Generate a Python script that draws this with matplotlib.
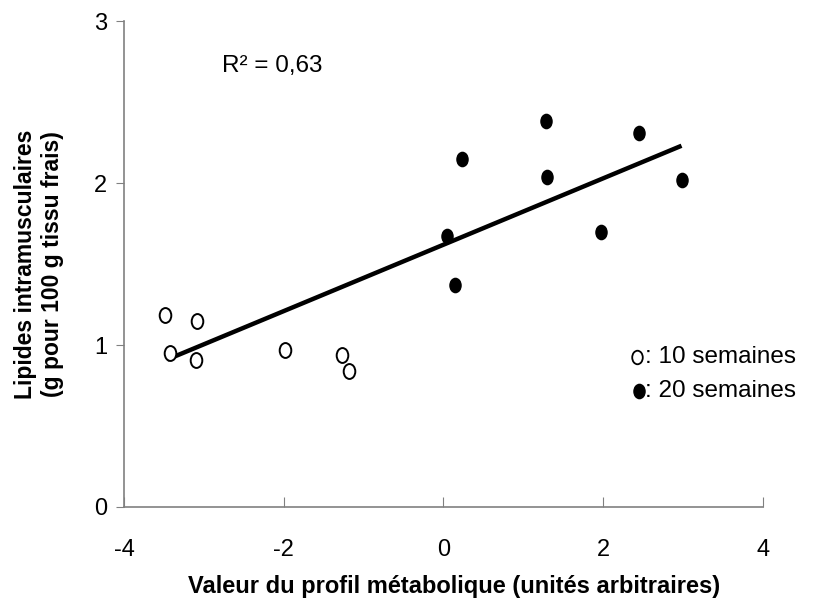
import matplotlib
matplotlib.use("Agg")
import matplotlib.pyplot as plt
from matplotlib.path import Path
from matplotlib.transforms import Affine2D
import numpy as np

plt.rcParams['font.family'] = ['Liberation Sans', 'DejaVu Sans']
plt.rcParams['axes.unicode_minus'] = False

x10 = [-3.49, -3.42, -3.08, -3.10, -1.99, -1.27, -1.18]
y10 = [1.185, 0.95, 1.15, 0.91, 0.97, 0.94, 0.84]
x20 = [0.05, 0.15, 0.23, 1.28, 1.30, 1.97, 2.45, 2.98]
y20 = [1.67, 1.37, 2.15, 2.38, 2.04, 1.70, 2.31, 2.02]
fit_x = [-3.46, 2.98]
fit_y = [0.91, 2.23]
xticks = [-4, -2, 0, 2, 4]
yticks = [0, 1, 2, 3]

ell = Path.unit_circle().transformed(Affine2D().scale(0.78, 1.0))

fig = plt.figure(figsize=(8.13, 6.04), dpi=100)
ax = fig.add_axes([0.1525, 0.1606, 0.786, 0.8046])
ax.scatter(x10, y10, marker=ell, s=115, facecolors='white', edgecolors='black', linewidths=1.4, zorder=3)
ax.scatter(x20, y20, marker=ell, s=105, facecolors='black', edgecolors='black', zorder=3)
ax.plot(fit_x, fit_y, color='black', lw=3.2, solid_capstyle='butt', zorder=2)

ax.set_xlim(-4, 4)
ax.set_ylim(0, 3)
ax.set_xticks(xticks)
ax.set_yticks(yticks)
for s in ['top', 'right']:
    ax.spines[s].set_visible(False)
for s in ['left', 'bottom']:
    ax.spines[s].set_color('#808080')
    ax.spines[s].set_linewidth(1.2)
ax.tick_params(axis='x', direction='in', length=7, color='#808080', labelsize=17, pad=23)
ax.tick_params(axis='y', direction='out', length=6, color='#808080', labelsize=17, pad=6)

ax.set_xlabel('Valeur du profil métabolique (unités arbitraires)', fontsize=17, fontweight='bold')
ax.xaxis.set_label_coords(0.516, -0.14)
ax.set_ylabel('Lipides intramusculaires\n(g pour 100 g tissu frais)', fontsize=16.5, fontweight='bold', labelpad=22)

ax.text(-2.77, 2.72, 'R² = 0,63', fontsize=17.5, va='center')

ax.scatter([2.42], [0.925], marker=ell, s=95, facecolors='white', edgecolors='black', linewidths=1.3, clip_on=False)
ax.scatter([2.45], [0.715], marker=ell, s=105, facecolors='black', edgecolors='black', clip_on=False)
ax.text(2.52, 0.925, ': 10 semaines', fontsize=17.5, va='center')
ax.text(2.52, 0.715, ': 20 semaines', fontsize=17.5, va='center')

fig.savefig('out.png', dpi=100)
